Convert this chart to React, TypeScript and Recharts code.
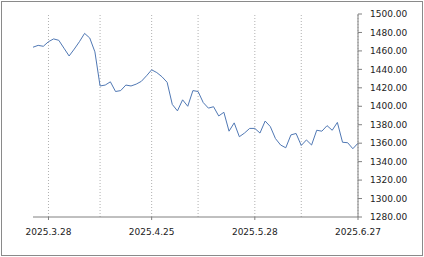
import { LineChart, Line, XAxis, YAxis, ReferenceLine } from 'recharts';

// trading days (KRX calendar), 2025.3.25 - 2025.6.27
const dates = [
  '2025.3.25', '2025.3.26', '2025.3.27', '2025.3.28', '2025.3.31',
  '2025.4.1', '2025.4.2', '2025.4.3', '2025.4.4', '2025.4.7',
  '2025.4.8', '2025.4.9', '2025.4.10', '2025.4.11', '2025.4.14',
  '2025.4.15', '2025.4.16', '2025.4.17', '2025.4.18', '2025.4.21',
  '2025.4.22', '2025.4.23', '2025.4.24', '2025.4.25', '2025.4.28',
  '2025.4.29', '2025.4.30', '2025.5.2', '2025.5.7', '2025.5.8',
  '2025.5.9', '2025.5.12', '2025.5.13', '2025.5.14', '2025.5.15',
  '2025.5.16', '2025.5.19', '2025.5.20', '2025.5.21', '2025.5.22',
  '2025.5.23', '2025.5.26', '2025.5.27', '2025.5.28', '2025.5.29',
  '2025.5.30', '2025.6.2', '2025.6.4', '2025.6.5', '2025.6.9',
  '2025.6.10', '2025.6.11', '2025.6.12', '2025.6.13', '2025.6.16',
  '2025.6.17', '2025.6.18', '2025.6.19', '2025.6.20', '2025.6.23',
  '2025.6.24', '2025.6.25', '2025.6.26', '2025.6.27',
];

const prices = [
  1464, 1466, 1465, 1470, 1473, 1471.5, 1463, 1454.5, 1462, 1470,
  1479, 1474, 1459, 1422, 1423, 1426.5, 1416, 1417, 1423, 1422,
  1424, 1427, 1433, 1439.5, 1436.5, 1432, 1426, 1402, 1395, 1407,
  1400, 1417, 1416, 1404, 1398, 1399.5, 1389.5, 1393.5, 1373, 1382,
  1367, 1371, 1376, 1376, 1371, 1384, 1378, 1365, 1358, 1355,
  1369, 1370.5, 1357.5, 1363.5, 1358, 1374, 1373, 1379, 1374, 1382.5,
  1361, 1360.5, 1354, 1360,
];

const yTicks = [1280, 1300, 1320, 1340, 1360, 1380, 1400, 1420, 1440, 1460, 1480, 1500];
const xTicks = ['2025.3.28', '2025.4.25', '2025.5.28', '2025.6.27'];
const gridDates = ['2025.3.28', '2025.4.11', '2025.4.25', '2025.5.13', '2025.5.28', '2025.6.12', '2025.6.27'];

const data = dates.map((d, i) => ({ date: d, price: prices[i] }));

const tickStyle = { fontFamily: 'DejaVu Sans', fontSize: 9, fill: '#222' };

export default function App() {
  return (
    <div style={{ position: 'absolute', left: 0, top: 0, width: 424, height: 257, background: '#fff' }}>
      <div
        style={{
          position: 'absolute',
          left: 1,
          top: 1,
          width: 422,
          height: 255,
          boxSizing: 'border-box',
          border: '1px solid #8a8a8a',
        }}
      />
      <LineChart
        width={424}
        height={257}
        data={data}
        margin={{ top: 14, right: 6, bottom: 10, left: 33 }}
        style={{ position: 'absolute', left: 0, top: 0 }}
      >
        {gridDates.map(d => (
          <ReferenceLine key={d} x={d} stroke="#b0b0b0" strokeDasharray="1 2" />
        ))}
        <XAxis
          dataKey="date"
          ticks={xTicks}
          interval={0}
          tickSize={3}
          tickMargin={9}
          stroke="#808080"
          tick={tickStyle}
          height={30}
        />
        <YAxis
          orientation="right"
          domain={[1280, 1500]}
          ticks={yTicks}
          interval={0}
          tickFormatter={(v: number) => v.toFixed(2)}
          tickSize={4}
          tickMargin={8}
          stroke="#808080"
          tick={tickStyle}
          width={60}
        />
        <Line
          type="linear"
          dataKey="price"
          stroke="#5078b4"
          strokeWidth={1}
          dot={false}
          isAnimationActive={false}
        />
      </LineChart>
    </div>
  );
}
